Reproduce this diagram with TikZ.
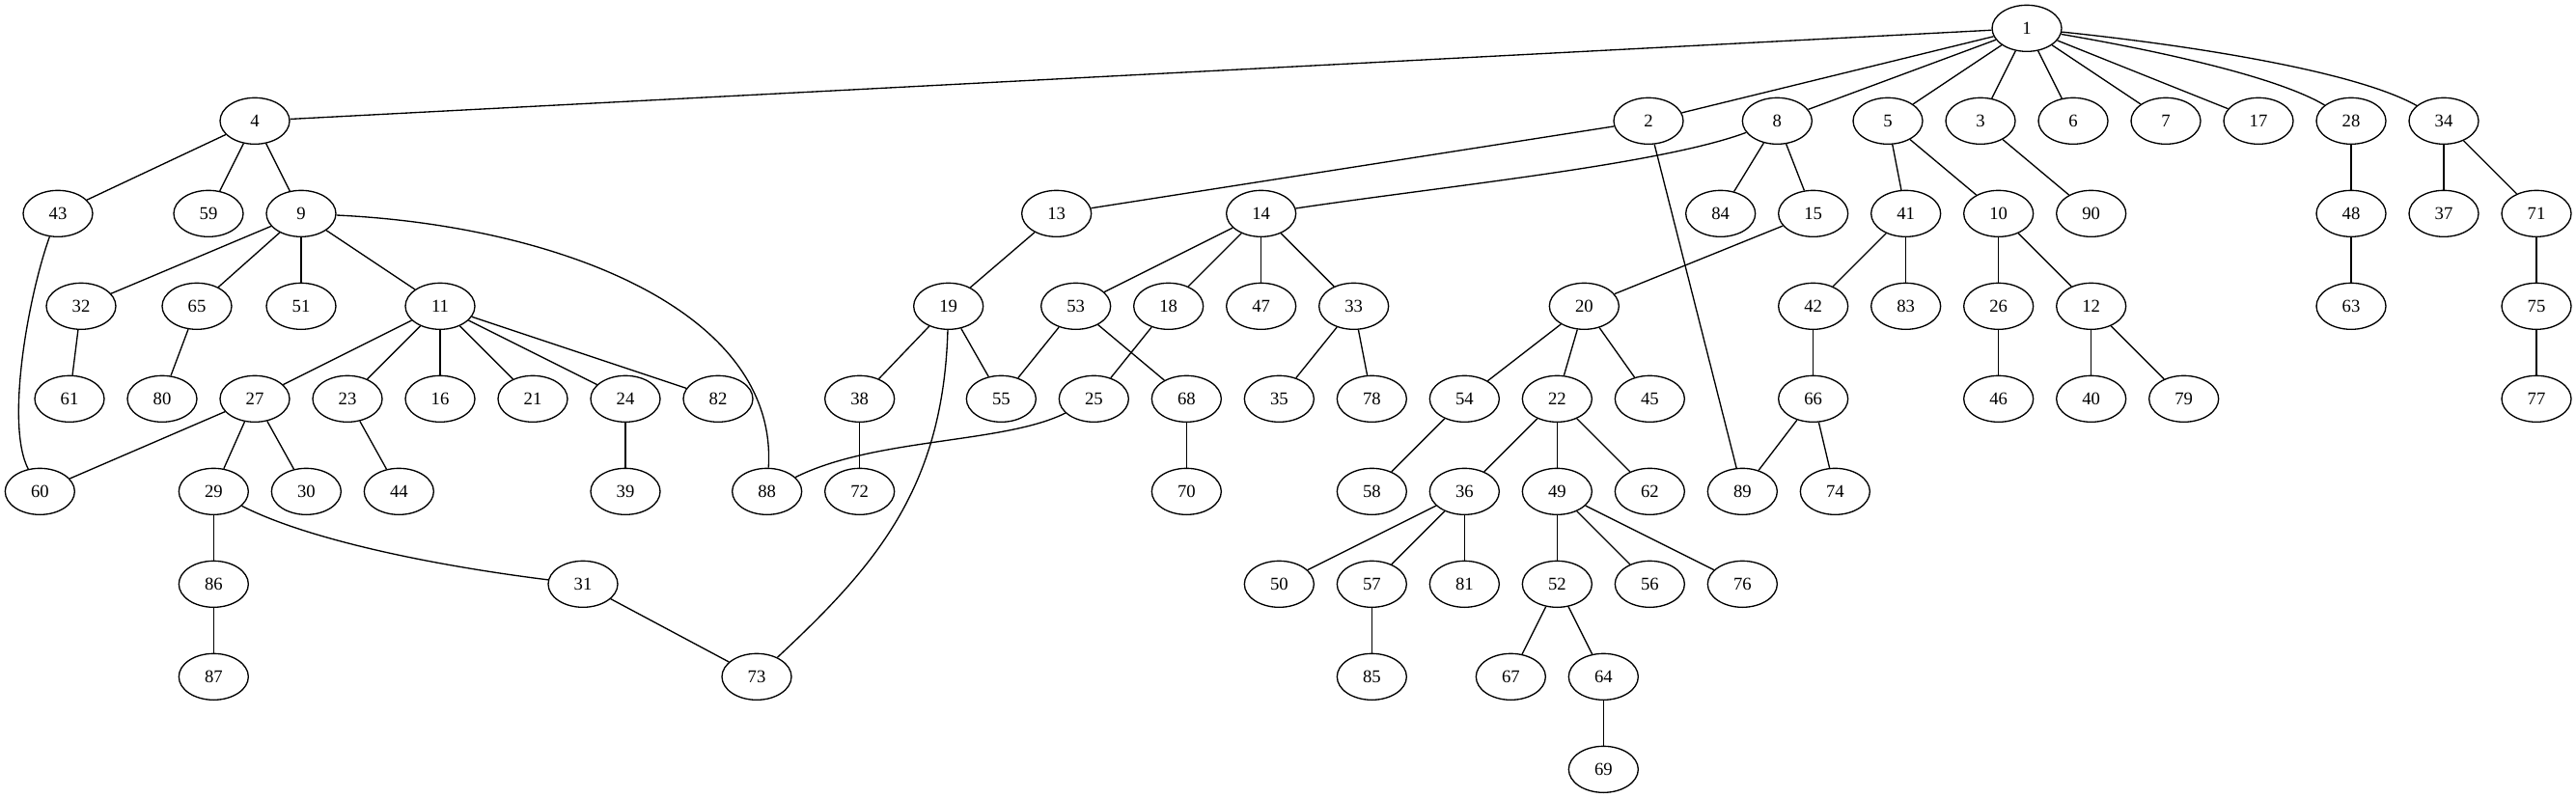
\documentclass[tikz,border=0pt]{standalone}
\usepackage{fontspec}
\setmainfont{Liberation Serif}
\usetikzlibrary{shapes.geometric}
\tikzset{
  vtx/.style={ellipse, draw, line width=1pt, minimum width=54pt, minimum height=36pt, inner sep=0pt, font=\fontsize{14}{16}\selectfont},
  edge/.style={line width=1pt}
}
\begin{document}
\begin{tikzpicture}[x=1pt,y=-1pt]
\useasboundingbox (0,0) rectangle (2001.75,620.25);
% rank 0
\node[vtx] (n1) at (1575,22) {1};
% rank 1
\foreach \n/\x in {4/198,2/1281,8/1381,5/1467,3/1539,6/1611,7/1683,17/1755,28/1827,34/1899}
  \node[vtx] (n\n) at (\x,94) {\n};
% rank 2
\foreach \n/\x in {43/45,59/162,9/234,13/821,14/980,84/1337,15/1409,41/1481,10/1553,90/1625,48/1827,37/1899,71/1971}
  \node[vtx] (n\n) at (\x,166) {\n};
% rank 3
\foreach \n/\x in {32/63,65/153,51/234,11/342,19/737,53/836,18/908,47/980,33/1052,20/1231,42/1409,83/1481,26/1553,12/1625,63/1827,75/1971}
  \node[vtx] (n\n) at (\x,238) {\n};
% rank 4
\foreach \n/\x in {61/54,80/126,27/198,23/270,16/342,21/414,24/486,82/558,38/668,55/778,25/850,68/922,35/994,78/1066,54/1138,22/1210,45/1282,66/1409,46/1553,40/1625,79/1697,77/1971}
  \node[vtx] (n\n) at (\x,310) {\n};
% rank 5
\foreach \n/\x in {60/31,29/166,30/238,44/310,39/486,88/596,72/668,70/922,58/1066,36/1138,49/1210,62/1282,89/1354,74/1426}
  \node[vtx] (n\n) at (\x,382) {\n};
% rank 6
\foreach \n/\x in {86/166,31/453,50/994,57/1066,81/1138,52/1210,56/1282,76/1354}
  \node[vtx] (n\n) at (\x,454) {\n};
% rank 7
\foreach \n/\x in {87/166,73/588,85/1066,67/1174,64/1246}
  \node[vtx] (n\n) at (\x,526) {\n};
% rank 8
\node[vtx] (n69) at (1246,598) {69};
% straight edges
\foreach \a/\b in {1/4,1/2,1/8,1/5,1/3,1/6,1/7,1/17,
  4/43,4/59,4/9,9/32,9/65,9/51,9/11,32/61,65/80,
  11/27,11/23,11/16,11/21,11/24,11/82,27/60,27/29,27/30,23/44,24/39,
  29/86,86/87,31/73,2/13,2/89,8/84,8/15,13/19,19/38,19/55,
  14/53,14/18,14/47,14/33,53/55,53/68,18/25,68/70,38/72,33/35,33/78,
  15/20,20/54,20/22,20/45,54/58,22/36,22/49,22/62,36/50,36/57,36/81,57/85,
  49/52,49/56,49/76,52/67,52/64,64/69,5/41,5/10,41/42,41/83,42/66,66/89,66/74,
  10/26,10/12,26/46,12/40,12/79,3/90,28/48,48/63,34/37,34/71,71/75,75/77}
  \draw[edge] (n\a) -- (n\b);
% curved edges
\draw[edge] (n1) .. controls (1680,40) and (1770,60) .. (n28);
\draw[edge] (n1) .. controls (1700,35) and (1830,55) .. (n34);
\draw[edge] (n9) .. controls (430,175) and (605,240) .. (n88);
\draw[edge] (n43) .. controls (22,230) and (4,330) .. (n60);
\draw[edge] (n8) .. controls (1290,128) and (1120,145) .. (n14);
\draw[edge] (n19) .. controls (733,380) and (680,440) .. (n73);
\draw[edge] (n25) .. controls (780,345) and (680,340) .. (n88);
\draw[edge] (n29) .. controls (240,420) and (340,440) .. (n31);
\end{tikzpicture}
\end{document}
